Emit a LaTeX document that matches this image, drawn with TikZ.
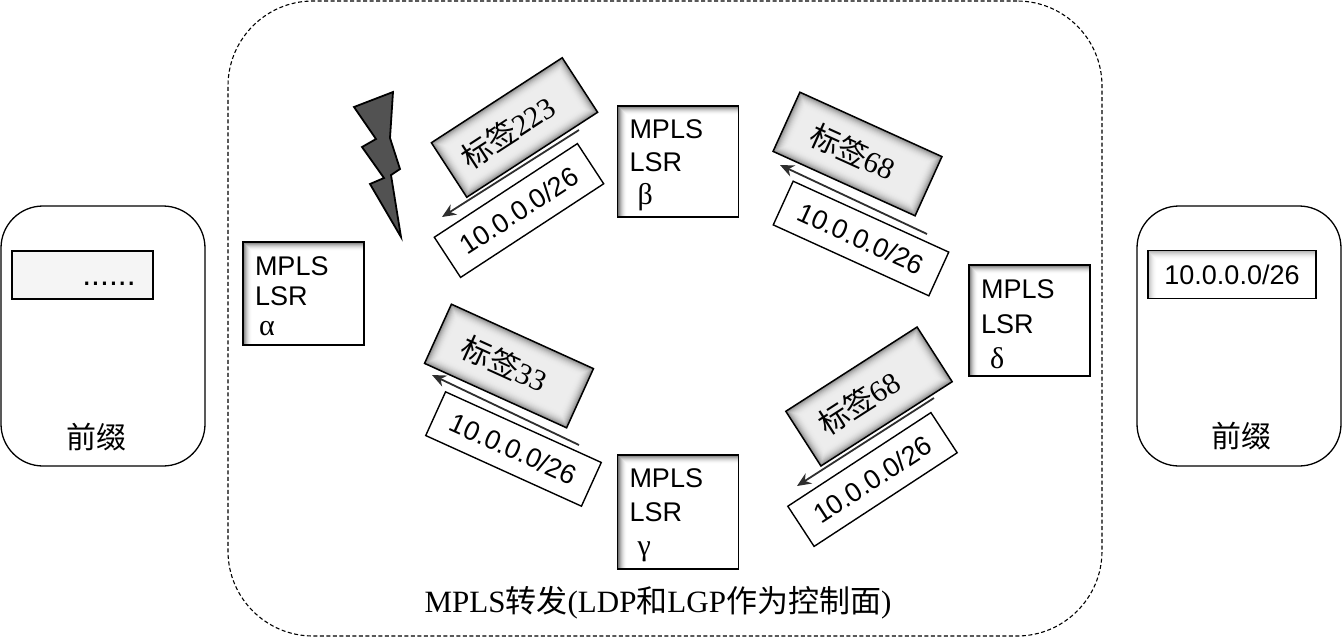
\documentclass[tikz,border=0pt]{standalone}
\usepackage{fontspec}
\setmainfont{Liberation Sans}
\newfontfamily\cjk{Noto Sans CJK SC}
\newfontfamily\ser{Liberation Serif}
\usetikzlibrary{arrows.meta}
\tikzset{
  x=1pt,y=-1pt,
  cornerfade/.style={path picture={
    \foreach \i in {0,...,9} {
      \pgfmathsetmacro\lvl{#1*(1-\i/9)*(1-\i/9)}
      \fill[black!\lvl] ([shift={(\i pt,-\i pt)}]path picture bounding box.north west) rectangle (path picture bounding box.south east);
    }}},
  lsrbox/.style={draw=black,line width=1.4pt,cornerfade=55,inner sep=0pt,outer sep=0pt,
    inner xsep=12pt,text width=97pt,minimum height=#1,align=left,anchor=center},
  tagbox/.style={draw=black,line width=1.5pt,rotate=#1,
    minimum width=156pt,minimum height=65pt,inner sep=0pt,outer sep=0pt,font=\fontsize{30}{32}\selectfont},
  ipbox/.style={draw=black,line width=1.4pt,fill=white,rotate=#1,minimum width=171pt,minimum height=48pt,
    inner sep=0pt,outer sep=0pt,font=\fontsize{27}{30}\selectfont},
  prefixbox/.style={draw=black,line width=1.3pt,rounded corners=42pt,minimum width=204pt,minimum height=260pt,inner sep=0pt,outer sep=0pt},
  tablebox/.style={draw=black,line width=1.4pt,inner sep=0pt,outer sep=0pt,minimum height=48pt,font=\fontsize{27}{30}\selectfont},
  flow/.style={line width=1.8pt,draw=black!82,-{Stealth[length=14pt,width=12pt]}},
  captxt/.style={inner sep=0pt,font=\fontsize{30}{32}\selectfont},
}
\newcommand\tagnode[6]{%
  \begin{scope}[shift={(#3,#4)},rotate=#5]
    \foreach \i in {0,...,14} {
      \pgfmathsetmacro\lvl{7+40*(1-\i/14)*(1-\i/14)*(1-\i/14)}
      \fill[black!\lvl] (-78+\i,-32.5+\i) rectangle (78-\i,32.5-\i);
    }
  \end{scope}
  \node[tagbox=#5] (#1) at (#3,#4) {#6\hspace*{#2pt}};
}
\begin{document}
\begin{tikzpicture}
\useasboundingbox (0,0) rectangle (1342,638);
\node[draw=black,line width=1.1pt,dash pattern=on 4pt off 2.5pt,rounded corners=85pt,minimum width=874pt,minimum height=635pt,inner sep=0pt,outer sep=0pt] (domain) at (665,318.5) {};
\node[prefixbox] (left) at (103,336) {};
\node[prefixbox] (right) at (1239,336) {};
\node[tablebox,fill=black!4,minimum width=141pt] (lefttable) at (82.5,275) {};
\node[inner sep=0pt,anchor=base,font=\fontsize{32}{34}\selectfont] (dots) at (109,285) {......};
\node[tablebox,cornerfade=28,minimum width=168pt] (righttable) at (1232,274.5) {10.0.0.0/26};
\node[captxt] (leftname) at (96,437) {\cjk 前缀};
\node[captxt] (rightname) at (1241,436) {\cjk 前缀};

\node[lsrbox=103pt,font=\fontsize{27}{30}\selectfont] (alpha) at (303.5,293.5) {\rule{0pt}{24pt}MPLS\\LSR\\\hspace*{4pt}{\ser\fontsize{30}{30}\selectfont α}};
\node[lsrbox=111pt,font=\fontsize{27}{33}\selectfont] (beta) at (678,161.5) {\rule{0pt}{27pt}MPLS\\LSR\\\hspace*{8pt}{\ser\fontsize{30}{33}\selectfont β}};
\node[lsrbox=114pt,font=\fontsize{27}{34}\selectfont] (gamma) at (678,512) {\rule{0pt}{25pt}MPLS\\LSR\\\hspace*{8pt}{\ser\fontsize{30}{34}\selectfont γ}};
\node[lsrbox=111pt,font=\fontsize{27}{35}\selectfont] (delta) at (1029.5,320.5) {\rule{0pt}{26pt}MPLS\\LSR\\\hspace*{9pt}{\ser\fontsize{30}{35}\selectfont δ}};

\tagnode{t1}{16}{514.5}{127.5}{33}{\cjk 标签{\ser 223}}
\tagnode{t2}{10}{857.5}{154}{-24.4}{\cjk 标签{\ser 68}}
\tagnode{t3}{10}{509}{366}{-24.4}{\cjk 标签{\ser 33}}
\tagnode{t4}{24}{869}{396.5}{32.7}{\cjk 标签{\ser 68}}

\node[ipbox=33.2] (p1) at (519,210.5) {10.0.0.0/26};
\node[ipbox=-24.5] (p2) at (861,238.5) {10.0.0.0/26};
\node[ipbox=-24.4] (p3) at (513.5,449) {10.0.0.0/26};
\node[ipbox=33.2] (p4) at (872.5,479.5) {10.0.0.0/26};

\coordinate (a1s) at (579,130); \coordinate (a1e) at (442,217);
\coordinate (a2s) at (927,234); \coordinate (a2e) at (780,165);
\coordinate (a3s) at (579,445); \coordinate (a3e) at (432,375);
\coordinate (a4s) at (934,398); \coordinate (a4e) at (797,486);
\draw[flow] (a1s) -- (a1e);
\draw[flow] (a2s) -- (a2e);
\draw[flow] (a3s) -- (a3e);
\draw[flow] (a4s) -- (a4e);

\filldraw[draw=black,line width=1.8pt,fill=black!68,line join=miter]
  (393,92) -- (354,107) -- (376,139) -- (362,147) -- (384,178) -- (370,184) -- (401,237)
  -- (391,175) -- (400,169) -- (390,138) -- cycle;

\node[inner sep=0pt,font=\fontsize{31}{33}\selectfont] (caption) at (658,603) {{\ser MPLS}\cjk 转发{\ser (LDP}和{\ser LGP}作为控制面{\ser )}};
\end{tikzpicture}
\end{document}
